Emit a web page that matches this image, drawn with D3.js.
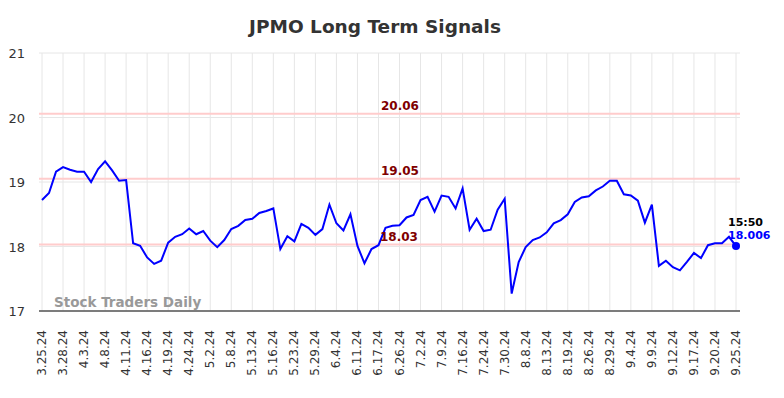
<!DOCTYPE html>
<html><head><meta charset="utf-8">
<script src="https://cdn.jsdelivr.net/npm/d3@7"></script>
<style>body{margin:0;background:#fff}svg{display:block;font-family:"DejaVu Sans",sans-serif}</style>
</head><body><svg id="c" width="784" height="398"></svg>
<script>
const title = "JPMO Long Term Signals";
const tickLabels = ["3.25.24","3.28.24","4.3.24","4.8.24","4.11.24","4.16.24","4.19.24","4.24.24","5.2.24","5.8.24","5.13.24","5.16.24","5.23.24","5.29.24","6.4.24","6.11.24","6.17.24","6.26.24","7.2.24","7.9.24","7.16.24","7.24.24","7.30.24","8.8.24","8.13.24","8.19.24","8.26.24","8.29.24","9.4.24","9.9.24","9.12.24","9.17.24","9.20.24","9.25.24"];
const prices = [18.72,18.83,19.16,19.23,19.19,19.16,19.16,19.00,19.20,19.32,
19.18,19.02,19.03,18.05,18.01,17.83,17.73,17.78,18.06,18.15,
18.19,18.28,18.19,18.24,18.09,17.99,18.10,18.27,18.32,18.41,
18.43,18.52,18.55,18.59,17.96,18.16,18.08,18.35,18.29,18.18,
18.27,18.65,18.36,18.25,18.50,18.01,17.74,17.96,18.02,18.29,
18.32,18.33,18.45,18.49,18.72,18.77,18.54,18.79,18.77,18.59,
18.90,18.26,18.43,18.24,18.26,18.57,18.74,17.27,17.76,17.99,
18.10,18.14,18.22,18.36,18.41,18.50,18.69,18.76,18.78,18.87,
18.93,19.02,19.02,18.81,18.79,18.71,18.37,18.65,17.70,17.78,
17.68,17.63,17.76,17.90,17.82,18.02,18.05,18.05,18.15,18.006];
const signalLevels = [20.06, 19.05, 18.03];
const yTicks = [17, 18, 19, 20, 21];
const lastTime = "15:50";
const lastLabel = "18.006";
const tickEvery = 3;

const svg = d3.select("#c");
const x = d3.scaleLinear().domain([0, prices.length - 1]).range([42, 736]);
const y = d3.scaleLinear().domain([17, 21]).range([311, 53]);
const left = 39, right = 740;

svg.append("text").attr("x", 375).attr("y", 33).attr("text-anchor", "middle")
  .attr("font-size", 18.5).attr("font-weight", "bold").attr("fill", "#333").text(title);

// horizontal grid
svg.append("g").selectAll("line").data(yTicks).join("line")
  .attr("x1", left).attr("x2", right).attr("y1", d => y(d)).attr("y2", d => y(d))
  .attr("stroke", "#e6e6e6").attr("stroke-width", 1);
// vertical grid
const tickIdx = tickLabels.map((_, i) => i * tickEvery);
svg.append("g").selectAll("line").data(tickIdx).join("line")
  .attr("x1", d => x(d)).attr("x2", d => x(d)).attr("y1", y(21)).attr("y2", y(17))
  .attr("stroke", "#e6e6e6").attr("stroke-width", 1);

// y labels
svg.append("g").selectAll("text").data(yTicks).join("text")
  .attr("x", 25).attr("y", d => y(d) + 5).attr("text-anchor", "end")
  .attr("font-size", 13).attr("fill", "#333").text(d => d);

// signal lines
svg.append("g").selectAll("line").data(signalLevels).join("line")
  .attr("x1", left).attr("x2", right).attr("y1", d => y(d)).attr("y2", d => y(d))
  .attr("stroke", "#ffcccc").attr("stroke-width", 2);

// watermark
svg.append("text").attr("x", 54).attr("y", 307).attr("font-size", 13.5).attr("font-weight", "bold")
  .attr("fill", "#999").text("Stock Traders Daily");

// x axis line
svg.append("line").attr("x1", left).attr("x2", right).attr("y1", 311).attr("y2", 311)
  .attr("stroke", "#555").attr("stroke-width", 1.5);

// x labels
svg.append("g").selectAll("text").data(tickLabels).join("text")
  .attr("transform", (d, i) => `translate(${x(i * tickEvery) + 4},330) rotate(-90)`)
  .attr("text-anchor", "end").attr("font-size", 12).attr("fill", "#333").text(d => d);

// line
svg.append("path").datum(prices)
  .attr("d", d3.line().x((d, i) => x(i)).y(d => y(d)))
  .attr("fill", "none").attr("stroke", "#0000ff").attr("stroke-width", 2);

// signal labels
const sigX = [400, 400, 399];
svg.append("g").selectAll("text").data(signalLevels).join("text")
  .attr("x", (d, i) => sigX[i]).attr("y", d => y(d) - 4).attr("text-anchor", "middle")
  .attr("font-size", 12).attr("font-weight", "bold").attr("fill", "#800000").text(d => d.toFixed(2));

// last point
const li = prices.length - 1;
svg.append("circle").attr("cx", x(li)).attr("cy", y(prices[li])).attr("r", 4).attr("fill", "#0000ff");
svg.append("text").attr("x", 728).attr("y", 226).attr("font-size", 11).attr("font-weight", "bold")
  .attr("fill", "#000").text(lastTime);
svg.append("text").attr("x", 728).attr("y", 239).attr("font-size", 11).attr("font-weight", "bold")
  .attr("fill", "#0000ff").text(lastLabel);
</script></body></html>
